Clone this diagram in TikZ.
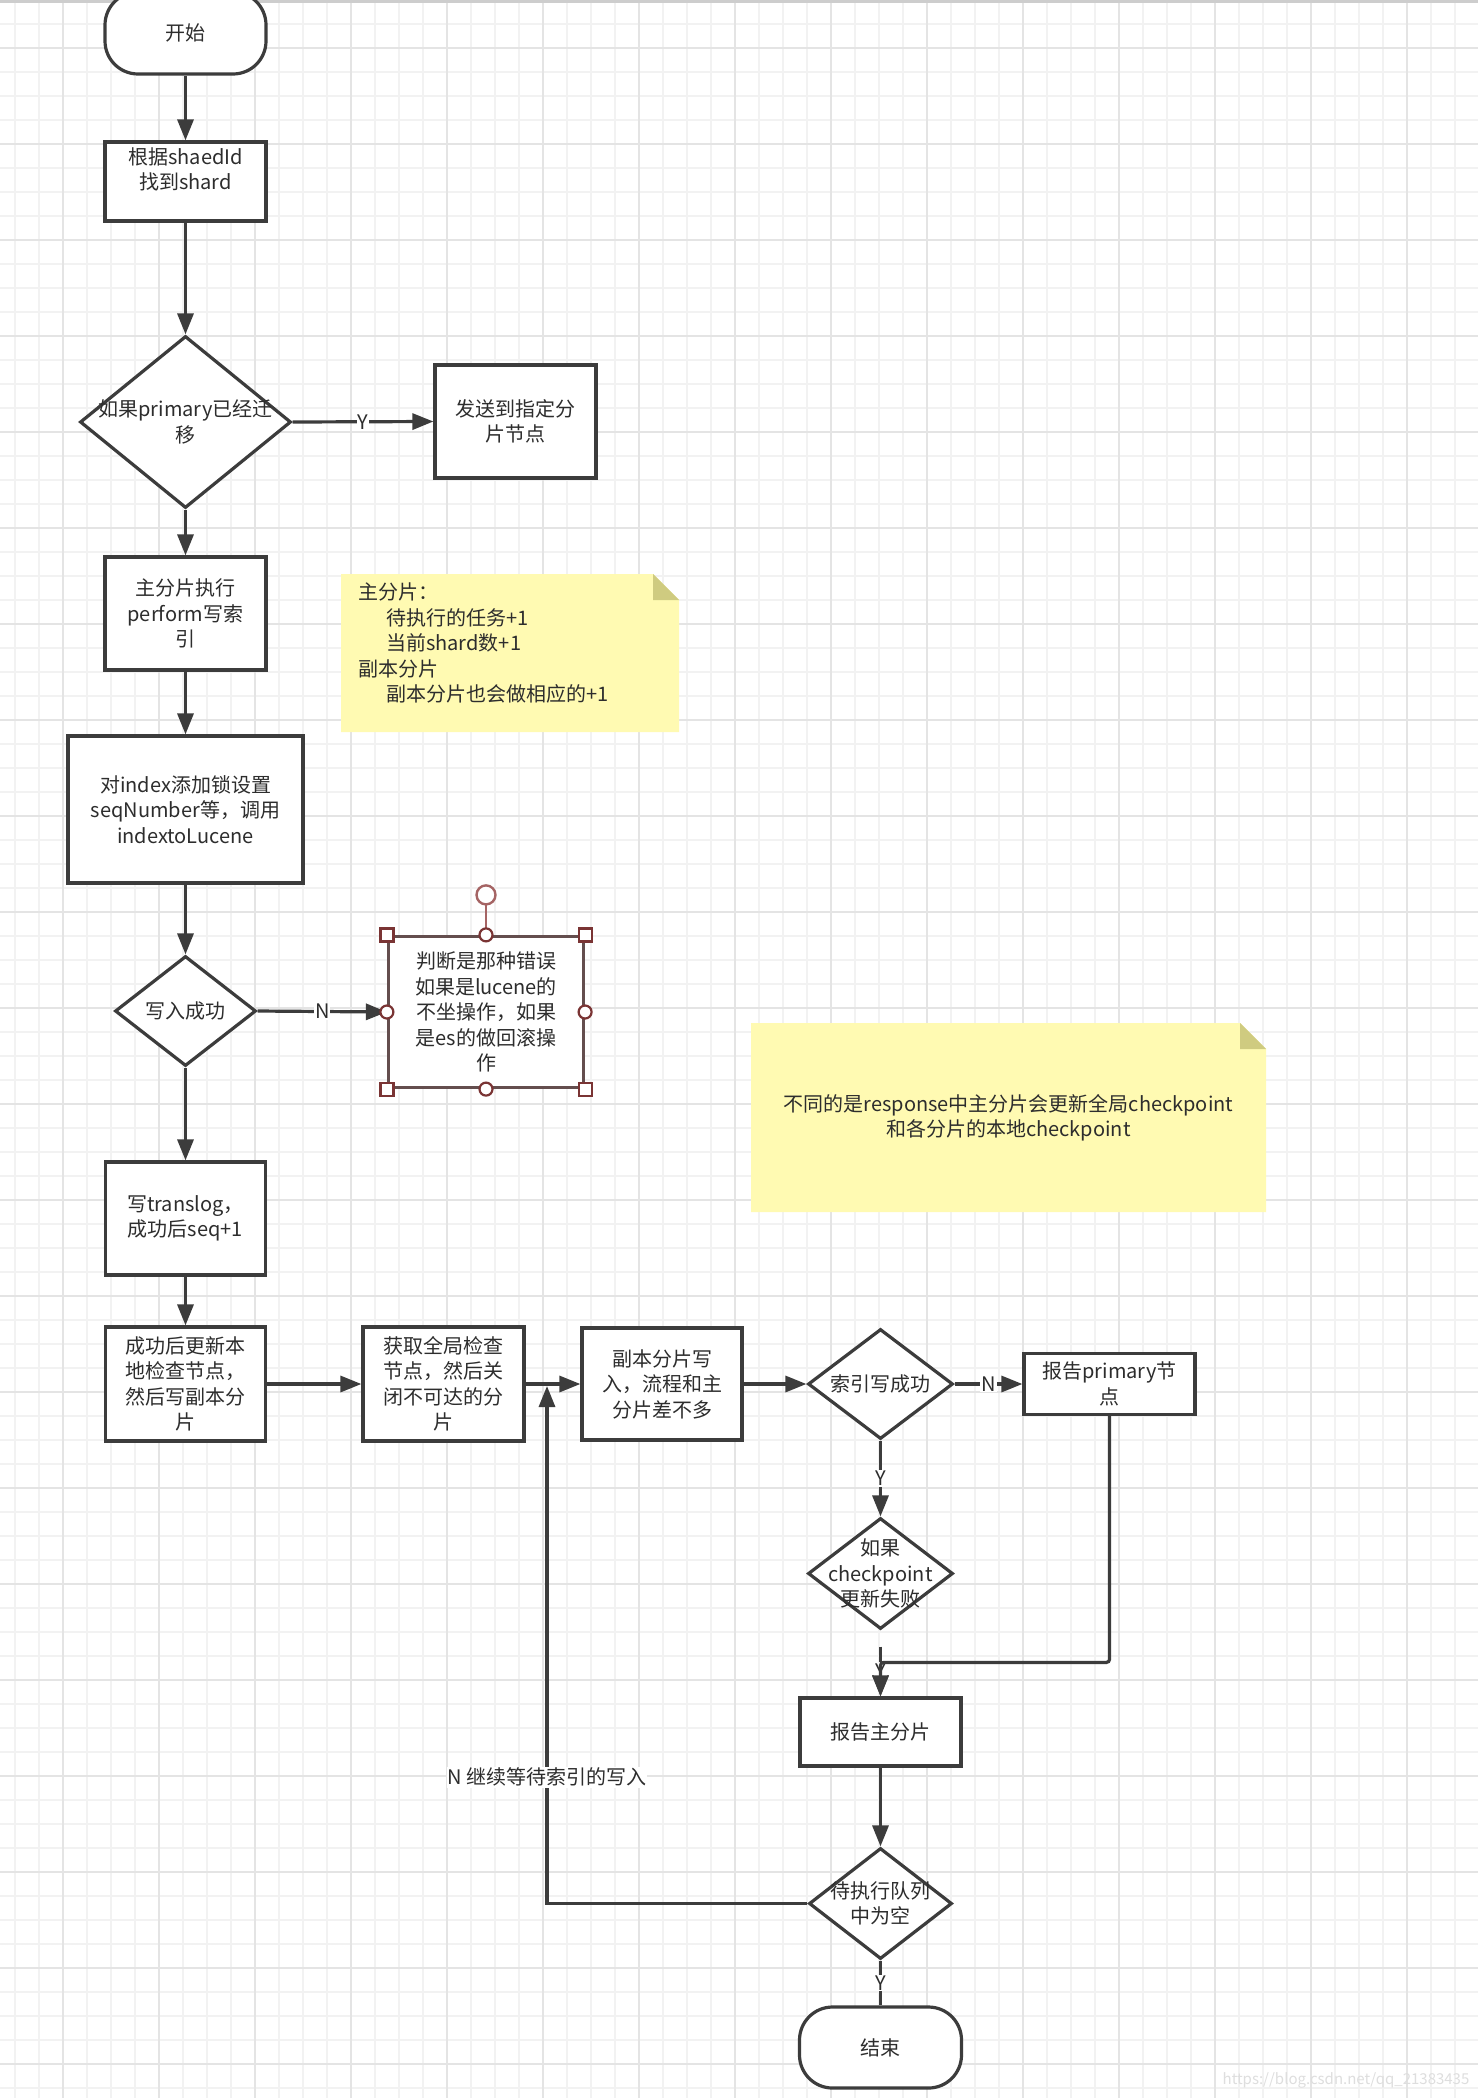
\documentclass[tikz,border=0pt]{standalone}
\usepackage{fontspec}
\setmainfont{Noto Sans CJK SC}
\usetikzlibrary{arrows.meta,shapes.geometric,calc}
\definecolor{ln}{RGB}{60,60,60}
\definecolor{txt}{RGB}{45,45,45}
\definecolor{gridmin}{RGB}{242,242,242}
\definecolor{gridmaj}{RGB}{228,228,228}
\definecolor{notey}{RGB}{255,250,178}
\definecolor{notefold}{RGB}{207,203,128}
\definecolor{selc}{RGB}{122,52,52}
\definecolor{selbox}{RGB}{100,78,78}
\definecolor{rotc}{RGB}{165,100,100}
\definecolor{wmc}{RGB}{222,222,222}
\definecolor{topline}{RGB}{205,205,205}
\newcommand\dfs{\fontsize{20}{25.5}\selectfont}
\begin{document}
\begin{tikzpicture}[x=1pt,y=-1pt,
  base/.style={draw=ln, line width=3.2pt, fill=white, inner sep=0pt, align=center, text=txt, font=\dfs},
  proc/.style={base, rectangle},
  term/.style={base, rectangle, rounded corners=33pt},
  dia/.style={base, diamond},
  intext/.style={align=center, text=txt, font=\dfs, inner sep=0pt},
  conn/.style={draw=ln, line width=3.2pt, -{Triangle[length=21pt,width=16pt]}},
  plain/.style={draw=ln, line width=3.2pt},
  lbl/.style={fill=white, inner sep=1pt, text=txt, font=\dfs},
  notetext/.style={text=txt, font=\dfs, inner sep=0pt},
  selhandle/.style={draw=selc, fill=white, line width=2.2pt},
  rothandle/.style={draw=rotc, fill=white, line width=2.4pt}
]
\useasboundingbox (0,0) rectangle (1478,2098);
\fill[white] (0,0) rectangle (1478,2098);
% grid
\foreach \gx in {15,39,...,1478} \draw[gridmin, line width=1.3pt] (\gx,0) -- (\gx,2098);
\foreach \gy in {0,24,...,2098} \draw[gridmin, line width=1.3pt] (0,\gy) -- (1478,\gy);
\foreach \gx in {63,159,...,1478} \draw[gridmaj, line width=1.8pt] (\gx,0) -- (\gx,2098);
\foreach \gy in {48,144,...,2098} \draw[gridmaj, line width=1.8pt] (0,\gy) -- (1478,\gy);
\fill[topline] (0,0) rectangle (1478,2.7);

% notes
\fill[notey] (341,574) -- (653,574) -- (679,600) -- (679,732) -- (341,732) -- cycle;
\fill[notefold] (653,574) -- (653,600) -- (679,600) -- cycle;
\node[notetext, anchor=west, align=left] (note1) at (358,643)
  {主分片：\\\hspace*{28pt}待执行的任务+1\\\hspace*{28pt}当前shard数+1\\副本分片\\\hspace*{28pt}副本分片也会做相应的+1};
\fill[notey] (751,1023) -- (1240,1023) -- (1266,1049) -- (1266,1212) -- (751,1212) -- cycle;
\fill[notefold] (1240,1023) -- (1240,1049) -- (1266,1049) -- cycle;
\node[notetext, align=center] (note2) at (1008.5,1118)
  {不同的是response中主分片会更新全局checkpoint\\和各分片的本地checkpoint};

% nodes
\node[term, minimum width=161pt, minimum height=82pt] (start) at (185.5,33) {开始};
\node[proc, minimum width=161pt, minimum height=79pt] (b1) at (185.5,181.5) {根据shaedId\\找到shard\\\mbox{}};
\node[dia, minimum width=211pt, minimum height=172pt,
  label={[intext]center:{如果primary已经迁\\移}}] (d1) at (185.5,422) {};
\node[proc, minimum width=161pt, minimum height=113pt] (send) at (515.5,421.5) {发送到指定分\\片节点};
\node[proc, minimum width=161pt, minimum height=113pt] (b2) at (185.5,613.5) {主分片执行\\perform写索\\引};
\node[proc, minimum width=235pt, minimum height=147pt] (b3) at (185.5,809.5) {对index添加锁设置\\seqNumber等，调用\\indextoLucene};
\node[dia, minimum width=141pt, minimum height=110pt,
  label={[intext]center:{写入成功}}] (d2) at (185.5,1011) {};
\node[proc, draw=selbox, minimum width=195pt, minimum height=151pt] (err) at (486,1012)
  {判断是那种错误\\如果是lucene的\\不坐操作，如果\\是es的做回滚操\\作};
\node[proc, minimum width=160pt, minimum height=113pt] (b4) at (185.5,1218.5) {写translog，\\成功后seq+1};
\node[proc, minimum width=160pt, minimum height=114pt] (b5) at (185.5,1384) {成功后更新本\\地检查节点，\\然后写副本分\\片};
\node[proc, minimum width=161pt, minimum height=114pt] (b6) at (443.5,1384) {获取全局检查\\节点，然后关\\闭不可达的分\\片};
\node[proc, minimum width=160pt, minimum height=112pt] (b7) at (662,1384) {副本分片写\\入，流程和主\\分片差不多};
\node[dia, minimum width=145pt, minimum height=110pt,
  label={[intext]center:{索引写成功}}] (d3) at (880.5,1384) {};
\node[proc, minimum width=171pt, minimum height=61pt] (rp) at (1109.5,1384) {报告primary节\\点};
\node[dia, minimum width=145pt, minimum height=111pt,
  label={[intext]center:{如果\\checkpoint\\更新失败}}] (d4) at (880.5,1573.5) {};
\node[proc, minimum width=161pt, minimum height=68pt] (b8) at (880.5,1732) {报告主分片};
\node[dia, minimum width=143pt, minimum height=111pt,
  label={[intext]center:{待执行队列\\中为空}}] (d5) at (880.5,1903.5) {};
\node[term, minimum width=162pt, minimum height=81pt] (end) at (880.5,2047.5) {结束};

% connectors
\draw[conn] (start.south) -- (b1.north);
\draw[conn] (b1.south) -- (d1.north);
\draw[conn] (d1.east) -- node[lbl] (ly1) {Y} (send.west);
\draw[conn] (d1.south) -- (b2.north);
\draw[conn] (b2.south) -- (b3.north);
\draw[conn] (b3.south) -- (d2.north);
\draw[conn] (d2.east) -- node[lbl] (ln1) {N} (err.west);
\draw[conn] (d2.south) -- (b4.north);
\draw[conn] (b4.south) -- (b5.north);
\draw[conn] (b5.east) -- (b6.west);
\draw[conn] (b6.east) -- (b7.west);
\draw[conn] (b7.east) -- (d3.west);
\draw[conn] (d3.east) -- node[lbl] (ln2) {N} (rp.west);
\draw[conn] (d3.south) -- node[lbl] (ly2) {Y} (d4.north);
\draw[conn, dash pattern=on 0pt off 16pt on 15pt off 200pt] (d4.south) -- node[lbl, pos=0.62] (ly3) {Y} (b8.north);
\coordinate (mj) at ($(b8.north)+(0,-34)$);
\draw[conn, rounded corners=3pt] (rp.south) |- (mj) -- (b8.north);
\draw[conn] (b8.south) -- (d5.north);
\draw[plain] (d5.south) -- node[lbl] (ly4) {Y} (end.north);
\coordinate (lp) at (547,1386);
\draw[conn] (d5.west) -| node[lbl, pos=0.622] (lnl) {N 继续等待索引的写入} (lp);

% selection handles on err
\coordinate (rh) at ($(err.north)+(0,-40)$);
\draw[draw=rotc, line width=2.4pt] (err.north) -- (rh);
\draw[rothandle] (rh) circle[radius=9.5pt];
\foreach \a in {north west, north east, south west, south east}
  \draw[selhandle] ($(err.\a)+(-6.5,-6.5)$) rectangle +(13,13);
\foreach \a in {north, south, east, west}
  \draw[selhandle] (err.\a) circle[radius=6.5pt];

% watermark
\node[text=wmc, font=\fontsize{15}{18}\selectfont, inner sep=0pt] (wm) at (1346,2080) {https://blog.csdn.net/qq\_21383435};
\end{tikzpicture}
\end{document}
